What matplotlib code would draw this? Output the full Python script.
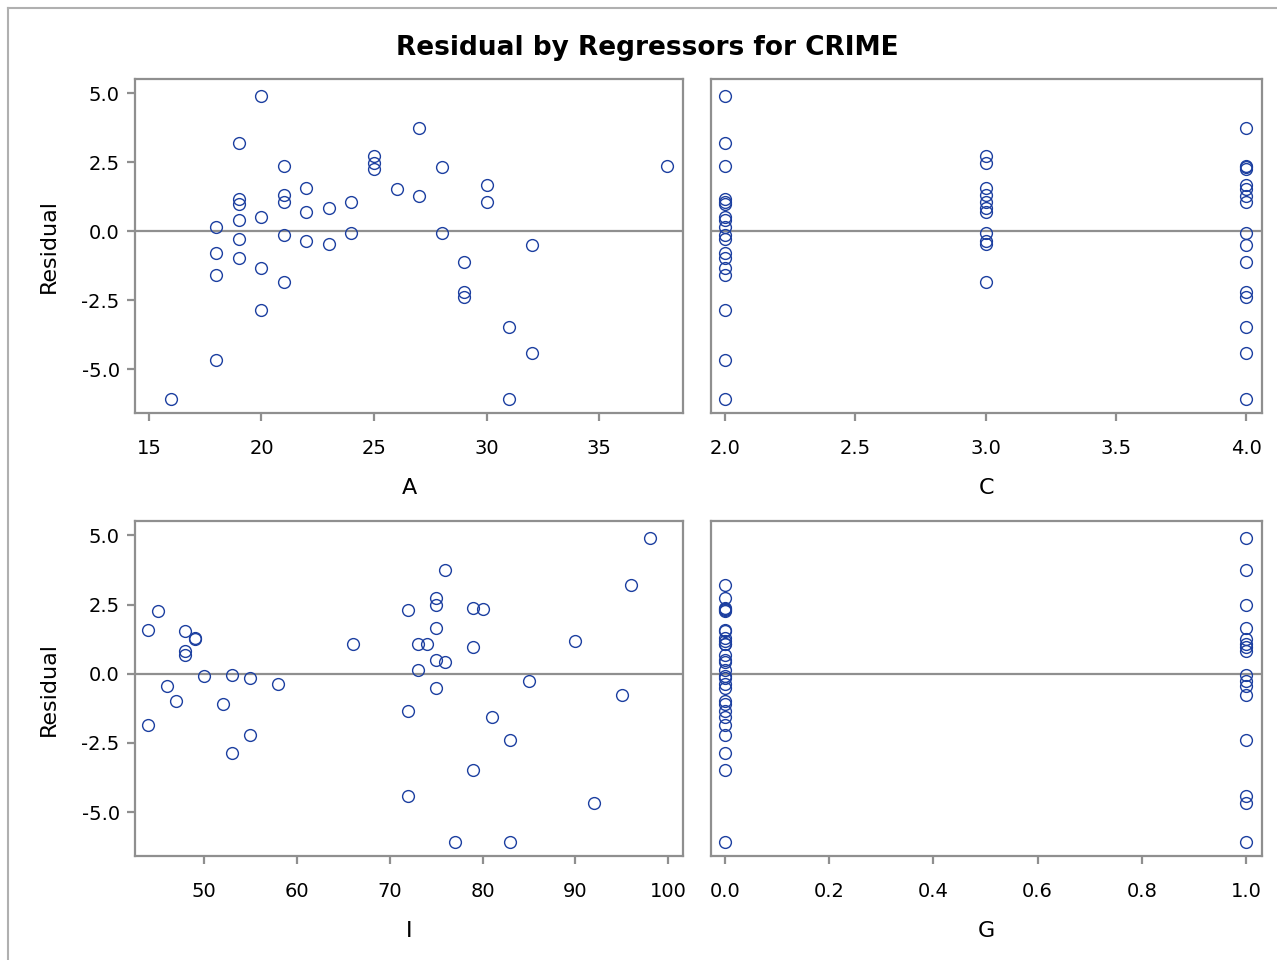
import matplotlib
matplotlib.use("Agg")
import matplotlib.pyplot as plt
from matplotlib.lines import Line2D

resid = [4.92, 3.76, 3.20, 2.74, 2.47, 2.37, 2.35, 2.32, 2.27, 1.67,
         1.58, 1.53, 1.30, 1.26, 1.18, 1.07, 1.07, 1.06, 0.98, 0.83,
         0.69, 0.51, 0.42, 0.15, -0.05, -0.08, -0.14, -0.28, -0.37, -0.46,
         -0.51, -0.78, -0.98, -1.11, -1.35, -1.57, -1.85, -2.21, -2.40, -2.87,
         -3.48, -4.41, -4.67, -6.07, -6.07]
A = [20, 27, 19, 25, 25, 38, 21, 28, 25, 30,
     22, 26, 21, 27, 19, 24, 30, 21, 19, 23,
     22, 20, 19, 18, 24, 28, 21, 19, 22, 23,
     32, 18, 19, 29, 20, 18, 21, 29, 29, 20,
     31, 32, 18, 16, 31]
C = [2, 4, 2, 3, 3, 4, 2, 4, 4, 4,
     3, 4, 3, 4, 2, 3, 4, 2, 2, 3,
     3, 2, 2, 2, 3, 4, 2, 2, 3, 3,
     4, 2, 2, 4, 2, 2, 3, 4, 4, 2,
     4, 4, 2, 2, 4]
I = [98, 76, 96, 75, 75, 79, 80, 72, 45, 75,
     44, 48, 49, 49, 90, 66, 73, 74, 79, 48,
     48, 75, 76, 73, 53, 50, 55, 85, 58, 46,
     75, 95, 47, 52, 72, 81, 44, 55, 83, 53,
     79, 72, 92, 77, 83]
G = [1, 1, 0, 0, 1, 0, 0, 0, 0, 1,
     0, 0, 0, 1, 0, 0, 1, 0, 1, 1,
     0, 0, 0, 0, 1, 0, 0, 1, 0, 1,
     0, 1, 0, 0, 0, 0, 0, 0, 1, 0,
     0, 1, 1, 1, 0]

frame_col = "#8f8f8f"
marker_col = "#1c3fa0"

fig = plt.figure(figsize=(12.77, 9.6), dpi=100)

# outer border (left and top edges visible)
fig.add_artist(Line2D([8 / 1277, 8 / 1277], [0, 1 - 8 / 960], transform=fig.transFigure,
                      color="#b0b0b0", lw=1.5))
fig.add_artist(Line2D([8 / 1277, 1], [1 - 8 / 960, 1 - 8 / 960], transform=fig.transFigure,
                      color="#b0b0b0", lw=1.5))

fig.text(0.507, 0.95, "Residual by Regressors for CRIME", ha="center", va="center",
         fontsize=19, fontweight="bold")

panels = [
    (A, "A", [135, 79, 683, 413], (14.38, 38.73), [15, 20, 25, 30, 35], "{:.0f}", True),
    (C, "C", [711, 79, 1262, 413], (1.946, 4.061), [2.0, 2.5, 3.0, 3.5, 4.0], "{:.1f}", False),
    (I, "I", [135, 521, 683, 856], (42.56, 101.6), [50, 60, 70, 80, 90, 100], "{:.0f}", True),
    (G, "G", [711, 521, 1262, 856], (-0.027, 1.031), [0.0, 0.2, 0.4, 0.6, 0.8, 1.0], "{:.1f}", False),
]

W, H = 1277, 960
for x, name, box, xlim, xt, fmt, left in panels:
    x0, y0, x1, y1 = box
    ax = fig.add_axes([x0 / W, 1 - y1 / H, (x1 - x0) / W, (y1 - y0) / H])
    ax.axhline(0, color=frame_col, lw=1.6, zorder=1)
    ax.plot(x, resid, linestyle="none", marker="o", markersize=8.5, markerfacecolor="none",
            markeredgecolor=marker_col, markeredgewidth=1.0, zorder=3)
    ax.set_xlim(*xlim)
    ax.set_ylim(-6.59, 5.52)
    ax.set_xticks(xt)
    ax.set_xticklabels([fmt.format(v) for v in xt])
    ax.set_yticks([-5.0, -2.5, 0.0, 2.5, 5.0])
    for s in ax.spines.values():
        s.set_color(frame_col)
        s.set_linewidth(1.6)
    ax.tick_params(axis="both", colors=frame_col, labelcolor="black", labelsize=14,
                   length=6, width=1.6, direction="out")
    ax.tick_params(axis="x", pad=13)
    ax.tick_params(axis="y", pad=5)
    if left:
        ax.set_yticklabels(["-5.0", "-2.5", "0.0", "2.5", "5.0"])
        ax.set_ylabel("Residual", fontsize=16, labelpad=16)
    else:
        ax.tick_params(axis="y", left=False, labelleft=False)
    ax.set_xlabel(name, fontsize=16, labelpad=14)

fig.savefig("out.png", dpi=100)
